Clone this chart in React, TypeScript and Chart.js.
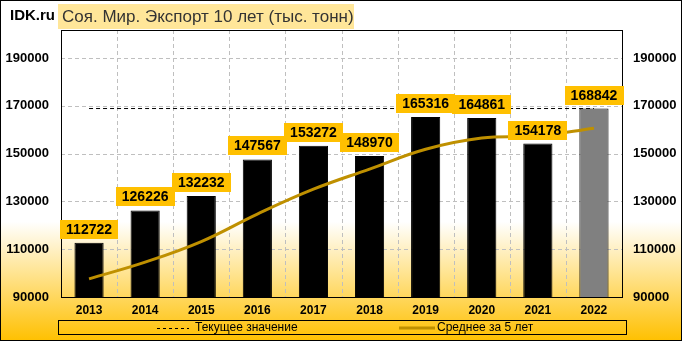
import React, { useEffect, useRef } from "react";
import { Chart, registerables } from "chart.js";

Chart.register(...registerables);

const years = ["2013", "2014", "2015", "2016", "2017", "2018", "2019", "2020", "2021", "2022"];
const exportValues = [112722, 126226, 132232, 147567, 153272, 148970, 165316, 164861, 154178, 168842];
const avg5Values = [97600, 104600, 113200, 124700, 135100, 143500, 151800, 156500, 157400, 160600];
const currentValue = 168842;
const yTicks = [90000, 110000, 130000, 150000, 170000, 190000];
const yMin = 90000;
const yMax = 201700;
const titleText = "Соя. Мир. Экспорт 10 лет (тыс. тонн)";
const brandText = "IDK.ru";
const legendCurrent = "Текущее значение";
const legendAvg = "Среднее за 5 лет";

const FONT = "'Liberation Sans', Arial, sans-serif";
const GOLD = "#FFC000";
const LINE_GOLD = "#BF9000";
const GRID = "#BFBFBF";

const decorPlugin = {
  id: "decor",
  beforeDraw(chart: any) {
    const { ctx, width, height } = chart;
    ctx.save();
    const g = ctx.createLinearGradient(0, 0, 0, height);
    g.addColorStop(0, "#FFFFFF");
    g.addColorStop(0.65, "#FFFFFF");
    g.addColorStop(1, "#FFC000");
    ctx.fillStyle = g;
    ctx.fillRect(0, 0, width, height);
    ctx.restore();
  },
  beforeDatasetsDraw(chart: any) {
    const { ctx, chartArea } = chart;
    const xs = chart.scales.x;
    const ys = chart.scales.y;
    ctx.save();
    ctx.strokeStyle = GRID;
    ctx.lineWidth = 1;
    ctx.setLineDash([4, 3]);
    ys.ticks.forEach((t: any) => {
      const y = Math.round(ys.getPixelForValue(t.value)) + 0.5;
      ctx.beginPath();
      ctx.moveTo(chartArea.left, y);
      ctx.lineTo(chartArea.right, y);
      ctx.stroke();
    });
    for (let i = 1; i < years.length; i++) {
      const x = Math.round((xs.getPixelForValue(i - 1) + xs.getPixelForValue(i)) / 2) + 0.5;
      ctx.beginPath();
      ctx.moveTo(x, chartArea.top);
      ctx.lineTo(x, chartArea.bottom);
      ctx.stroke();
    }
    ctx.restore();
  },
  afterDraw(chart: any) {
    const { ctx, width, height, chartArea } = chart;
    const xs = chart.scales.x;
    const ys = chart.scales.y;
    ctx.save();
    ctx.strokeStyle = "#000";
    ctx.lineWidth = 1;
    ctx.setLineDash([]);
    ctx.strokeRect(
      Math.round(chartArea.left) + 0.5,
      Math.round(chartArea.top) + 0.5,
      Math.round(chartArea.right - chartArea.left),
      Math.round(chartArea.bottom - chartArea.top)
    );
    ctx.font = `bold 14px ${FONT}`;
    ctx.textAlign = "center";
    ctx.textBaseline = "middle";
    exportValues.forEach((v, i) => {
      const x = xs.getPixelForValue(i);
      const yTop = ys.getPixelForValue(v);
      const txt = String(v);
      const w = ctx.measureText(txt).width + 12;
      const h = 19;
      const bx = Math.round(x - w / 2);
      const by = Math.round(yTop - 4 - h);
      ctx.fillStyle = GOLD;
      ctx.fillRect(bx, by, Math.round(w), h);
      ctx.fillStyle = "#000";
      ctx.fillText(txt, x, by + h / 2 + 1);
    });
    ctx.fillStyle = "#FFE699";
    ctx.fillRect(58, 4, 296, 25);
    ctx.fillStyle = "#333";
    ctx.font = `17px ${FONT}`;
    ctx.textAlign = "left";
    ctx.textBaseline = "middle";
    ctx.fillText(titleText, 62, 17);
    ctx.fillStyle = "#000";
    ctx.font = `bold 15px ${FONT}`;
    ctx.fillText(brandText, 10, 16);
    ctx.strokeStyle = "#000";
    ctx.lineWidth = 1;
    ctx.strokeRect(58.5, 320.5, 568, 14);
    const ly = 328;
    ctx.setLineDash([3, 3]);
    ctx.beginPath();
    ctx.moveTo(157, ly + 0.5);
    ctx.lineTo(189, ly + 0.5);
    ctx.stroke();
    ctx.setLineDash([]);
    ctx.strokeStyle = LINE_GOLD;
    ctx.lineWidth = 3;
    ctx.beginPath();
    ctx.moveTo(399, ly);
    ctx.lineTo(435, ly);
    ctx.stroke();
    ctx.fillStyle = "#000";
    ctx.font = `12px ${FONT}`;
    ctx.textBaseline = "middle";
    ctx.fillText(legendCurrent, 195, ly);
    ctx.fillText(legendAvg, 437, ly);
    ctx.strokeStyle = "#000";
    ctx.lineWidth = 1;
    ctx.strokeRect(0.5, 0.5, width - 1, height - 1);
    ctx.restore();
  },
};

export default function App() {
  const ref = useRef<HTMLCanvasElement | null>(null);
  useEffect(() => {
    if (!ref.current) return;
    const tickSetter = (scale: any) => {
      scale.ticks = yTicks.map((v) => ({ value: v }));
    };
    const plainLabel = (v: any) => String(v);
    const chart = new Chart(ref.current, {
      type: "bar",
      data: {
        labels: years,
        datasets: [
          {
            type: "line",
            label: legendAvg,
            data: avg5Values,
            borderColor: LINE_GOLD,
            borderWidth: 3,
            pointRadius: 0,
            tension: 0.4,
            fill: false,
            yAxisID: "y",
            order: 1,
          } as any,
          {
            type: "bar",
            label: "Экспорт",
            data: exportValues,
            backgroundColor: exportValues.map((_, i) => (i === exportValues.length - 1 ? "#808080" : "#000000")),
            borderColor: "#000",
            borderWidth: 1,
            categoryPercentage: 1,
            barPercentage: 0.52,
            yAxisID: "y",
            order: 2,
          },
          {
            type: "line",
            label: legendCurrent,
            data: years.map(() => currentValue),
            borderColor: "#000",
            borderWidth: 1,
            borderDash: [4, 3],
            pointRadius: 0,
            fill: false,
            yAxisID: "y",
            order: 3,
          } as any,
        ],
      },
      options: {
        animation: false,
        responsive: false,
        devicePixelRatio: 1,
        layout: { padding: { top: 30, left: 0, right: 0, bottom: 0 } },
        plugins: { legend: { display: false }, tooltip: { enabled: false }, title: { display: false } },
        scales: {
          x: {
            offset: true,
            grid: { display: false, drawTicks: false },
            border: { display: false },
            ticks: { color: "#000", font: { family: FONT, size: 12, weight: "bold" }, padding: 6, maxRotation: 0 },
            afterFit: (s: any) => {
              s.height = 44;
            },
          },
          y: {
            position: "left",
            min: yMin,
            max: yMax,
            afterBuildTicks: tickSetter,
            grid: { display: false, drawTicks: false },
            border: { display: false },
            ticks: { color: "#000", font: { family: FONT, size: 13, weight: "bold" }, padding: 12, callback: plainLabel },
            afterFit: (s: any) => {
              s.width = 61;
            },
          },
          y1: {
            position: "right",
            min: yMin,
            max: yMax,
            afterBuildTicks: tickSetter,
            grid: { display: false, drawTicks: false },
            border: { display: false },
            ticks: { color: "#000", font: { family: FONT, size: 13, weight: "bold" }, padding: 11, callback: plainLabel },
            afterFit: (s: any) => {
              s.width = 60;
            },
          },
        },
      } as any,
      plugins: [decorPlugin],
    });
    return () => chart.destroy();
  }, []);
  return (
    <div style={{ position: "fixed", left: 0, top: 0, width: 682, height: 341 }}>
      <canvas ref={ref} width={682} height={341} style={{ display: "block" }} />
    </div>
  );
}
